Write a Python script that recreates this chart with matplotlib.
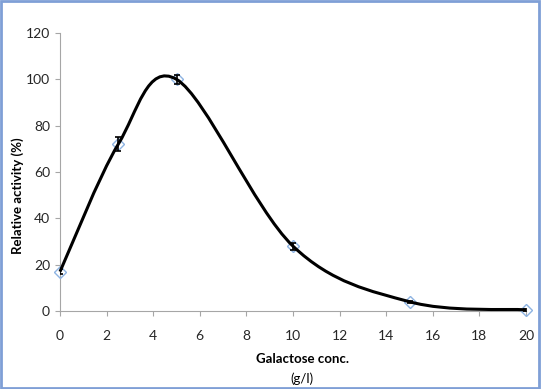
import matplotlib
matplotlib.use("Agg")
import matplotlib.pyplot as plt
from matplotlib.path import Path
from matplotlib.patches import PathPatch, Rectangle

# galactose conc. (g/l) vs relative activity (%)
conc = [0, 2.5, 5, 10, 15, 20]
activity = [17, 72, 100, 28, 4, 0.5]
err = [1, 3, 2, 1.5, 0.5, 0.3]

x_ticks = [0, 2, 4, 6, 8, 10, 12, 14, 16, 18, 20]
y_ticks = [0, 20, 40, 60, 80, 100, 120]

plt.rcParams['font.family'] = ['Lato', 'DejaVu Sans']

fig = plt.figure(figsize=(5.41, 3.89), dpi=100)
ax = fig.add_axes([60 / 541, 1 - 311 / 389, 466 / 541, 278 / 389])

# smoothed line like Excel (bezier through the points)
pts = list(zip(conc, activity))
verts = [pts[0]]
codes = [Path.MOVETO]
n = len(pts)
for i in range(n - 1):
    p0 = pts[i - 1] if i > 0 else pts[i]
    p1 = pts[i]
    p2 = pts[i + 1]
    p3 = pts[i + 2] if i + 2 < n else pts[i + 1]
    c1 = (p1[0] + (p2[0] - p0[0]) / 6, p1[1] + (p2[1] - p0[1]) / 6)
    c2 = (p2[0] - (p3[0] - p1[0]) / 6, p2[1] - (p3[1] - p1[1]) / 6)
    verts += [c1, c2, p2]
    codes += [Path.CURVE4] * 3

# markers first, line over them
ax.plot(conc, activity, 'D', ms=6, mfc='none', mec='#8db3e2', mew=1.0, zorder=3,
        linestyle='none', clip_on=False)
ax.add_patch(PathPatch(Path(verts, codes), facecolor='none', edgecolor='black', lw=2.2,
                       zorder=4, clip_on=False))
ax.errorbar(conc, activity, yerr=err, fmt='none', ecolor='black', elinewidth=1.2,
            capsize=2.5, capthick=1.2, zorder=5)

ax.set_xlim(0, 20)
ax.set_ylim(0, 120)
ax.set_xticks(x_ticks)
ax.set_yticks(y_ticks)
ax.spines['top'].set_visible(False)
ax.spines['right'].set_visible(False)
ax.spines['left'].set_color('#a6a6a6')
ax.spines['bottom'].set_color('#a6a6a6')
ax.tick_params(direction='out', length=3.6, color='#a6a6a6', labelsize=10, labelcolor='#262626')
ax.tick_params(axis='x', pad=10)
ax.tick_params(axis='y', pad=3.6)

fig.text(302 / 541, 1 - 359 / 389, 'Galactose conc.', ha='center', va='center', fontsize=9.5, fontweight='bold')
fig.text(302 / 541, 1 - 379 / 389, '(g/l)', ha='center', va='center', fontsize=9.5)
fig.text(18 / 541, 1 - 196 / 389, 'Relative activity (%)', ha='center', va='center', rotation=90,
         fontsize=9.5, fontweight='bold')

fig.patches.append(Rectangle((0.002, 0.003), 0.995, 0.994, transform=fig.transFigure,
                             fill=False, edgecolor='#7f9fd6', lw=2))

plt.savefig('out.png', dpi=100)
